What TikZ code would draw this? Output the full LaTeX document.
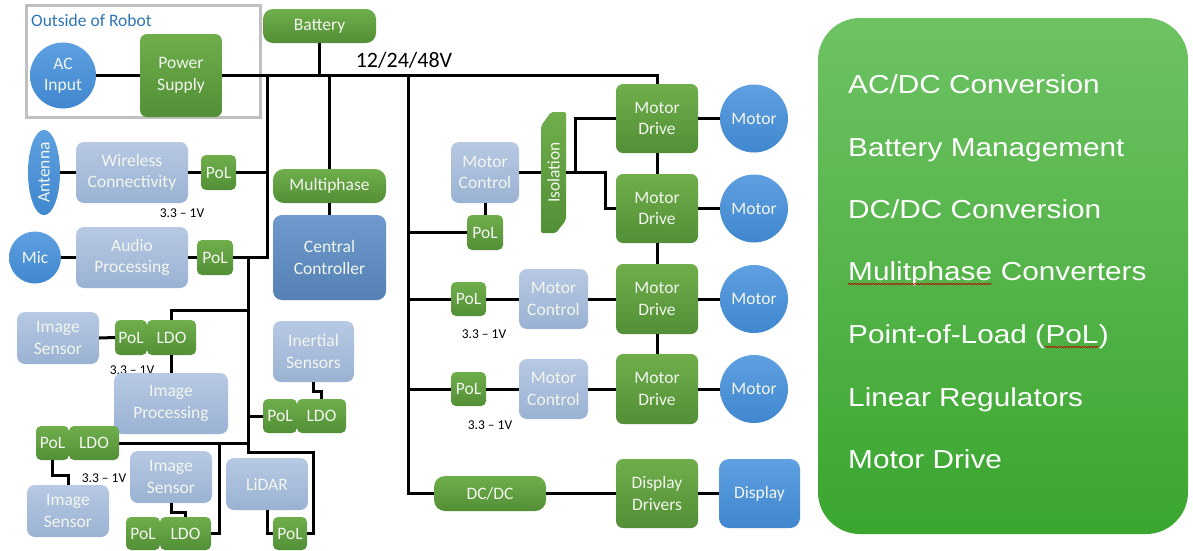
\documentclass[tikz,border=0pt]{standalone}
\usepackage{fontspec}
\setmainfont{Carlito}
\newfontfamily\panelfont[FakeStretch=1.145]{Liberation Sans}
\usetikzlibrary{shapes.geometric,decorations.pathmorphing}
\definecolor{gTop}{HTML}{6FAE4B}
\definecolor{gBot}{HTML}{528F36}
\definecolor{lbTop}{HTML}{B7C9E3}
\definecolor{lbBot}{HTML}{9AB2D3}
\definecolor{cTop}{HTML}{5EA0E0}
\definecolor{cBot}{HTML}{4087CF}
\definecolor{ccTop}{HTML}{6E9ACD}
\definecolor{ccBot}{HTML}{5580B3}
\definecolor{pTop}{HTML}{6EC263}
\definecolor{pBot}{HTML}{3AA62F}
\definecolor{outGray}{HTML}{C0C0C0}
\definecolor{outBlue}{HTML}{2E75B6}
\definecolor{txtW}{HTML}{F2F6EE}
\newcommand\bxn[7]{\node[#2, minimum width=#5-#3, minimum height=#6-#4] (#1) at ({(#3+#5)/2},{(#4+#6)/2}) {#7};}
\begin{document}
\begin{tikzpicture}[x=1pt,y=-1pt,
 lbl/.style={font=\fontsize{17.5}{21.5}\selectfont, text=txtW, align=center, inner sep=0pt},
 gbox/.style={lbl, rounded corners=7pt, top color=gTop, bottom color=gBot},
 lbbox/.style={lbl, rounded corners=8pt, top color=lbTop, bottom color=lbBot},
 ccbox/.style={lbl, rounded corners=9pt, top color=ccTop, bottom color=ccBot},
 dispbox/.style={lbl, rounded corners=10pt, top color=cTop, bottom color=cBot},
 bcirc/.style={lbl, circle, top color=cTop, bottom color=cBot},
 conn/.style={line width=3pt, black},
 volt/.style={font=\fontsize{13.5}{15}\selectfont, inner sep=0pt},
 item/.style={font=\panelfont\fontsize{26}{30}\selectfont, text=white, anchor=base west, inner sep=0pt},
 squig/.style={draw=red!75!black, line width=0.7pt, decorate, decoration={snake, amplitude=0.7pt, segment length=3pt}}
]
\useasboundingbox (0,0) rectangle (1193,550);
\fill[white] (0,0) rectangle (1193,550);

% outside of robot
\node[draw=outGray, line width=3pt, minimum width=234, minimum height=112, inner sep=0pt] (outside) at (143,61) {};
\node[anchor=west, text=outBlue, font=\fontsize{17.5}{20}\selectfont, inner sep=0pt] (outlbl) at (31,20) {Outside of Robot};
\node[bcirc, minimum size=66] (ac) at (63,75.5) {AC\\Input};
\bxn{ps}{gbox}{140}{34}{222}{117}{Power\\Supply}
\bxn{bat}{gbox, rounded corners=10pt}{263}{9}{376}{43}{Battery}
\node[font=\fontsize{22}{24}\selectfont, inner sep=0pt] (busv) at (404,60) {12/24/48V};

% left column
\node[ellipse, lbl, top color=cTop, bottom color=cBot, minimum width=32, minimum height=82] (ant) at (44,172.5) {\rotatebox{90}{Antenna}};
\bxn{wl}{lbbox}{76}{142}{188}{203}{Wireless\\Connectivity}
\bxn{polw}{gbox, rounded corners=5pt}{201}{155}{236}{190}{PoL}
\node[volt] (v1) at (182,213) {3.3 -- 1V};
\node[bcirc, minimum size=52] (mic) at (35,257.5) {Mic};
\bxn{ap}{lbbox}{76}{227}{188}{288}{Audio\\Processing}
\bxn{pola}{gbox, rounded corners=5pt}{197}{240}{233}{275}{PoL}
\bxn{mp}{gbox, rounded corners=11pt}{273}{169}{386}{203}{Multiphase}
\bxn{cc}{ccbox}{273}{215}{386}{300}{Central\\Controller}

\bxn{is1}{lbbox}{17}{312}{99}{364}{Image\\Sensor}
\bxn{pol1}{gbox, rounded corners=5pt}{115}{320}{147}{355}{PoL}
\bxn{ldo1}{gbox, rounded corners=5pt}{147}{320}{196}{355}{LDO}
\node[volt] (v2) at (132,370) {3.3 -- 1V};
\bxn{ip}{lbbox}{114}{373}{228}{434}{Image\\Processing}
\bxn{ine}{lbbox}{273}{321}{354}{382}{Inertial\\Sensors}
\bxn{polI}{gbox, rounded corners=5pt}{263}{399}{297}{433}{PoL}
\bxn{ldoI}{gbox, rounded corners=5pt}{297}{399}{346}{433}{LDO}
\bxn{pol3}{gbox, rounded corners=5pt}{36}{426}{69}{460}{PoL}
\bxn{ldo3}{gbox, rounded corners=5pt}{69}{426}{119}{460}{LDO}
\node[volt] (v3) at (104,478) {3.3 -- 1V};
\bxn{is3}{lbbox}{27}{485}{109}{537}{Image\\Sensor}
\bxn{is2}{lbbox}{130}{451}{212}{503}{Image\\Sensor}
\bxn{pol4}{gbox, rounded corners=5pt}{126}{517}{160}{550}{PoL}
\bxn{ldo4}{gbox, rounded corners=5pt}{160}{517}{211}{550}{LDO}
\bxn{lid}{lbbox}{226}{458}{308}{510}{LiDAR}
\bxn{polL}{gbox, rounded corners=5pt}{273}{517}{307}{550}{PoL}

% middle
\bxn{mc1}{lbbox}{451}{142}{519}{203}{Motor\\Control}
\bxn{polM}{gbox, rounded corners=5pt}{467}{215}{503}{250}{PoL}
\shade[top color=gTop, bottom color=gBot, rounded corners=2pt] (541,126) -- (551,112) -- (566,112) -- (566,220) -- (556,233) -- (541,233) -- cycle;
\node[inner sep=0pt, minimum width=25, minimum height=121] (iso) at (553.5,172.5) {};
\node[lbl, rotate=90] (isotxt) at (iso.center) {Isolation};
\bxn{md1}{gbox}{616}{84}{698}{153}{Motor\\Drive}
\bxn{md2}{gbox}{616}{174}{698}{243}{Motor\\Drive}
\bxn{md3}{gbox}{616}{264}{698}{334}{Motor\\Drive}
\bxn{md4}{gbox}{616}{354}{698}{424}{Motor\\Drive}
\node[bcirc, minimum size=68] (m1) at (754,118.5) {Motor};
\node[bcirc, minimum size=68] (m2) at (754,208.5) {Motor};
\node[bcirc, minimum size=68] (m3) at (754,299) {Motor};
\node[bcirc, minimum size=68] (m4) at (754,389) {Motor};
\bxn{polR3}{gbox, rounded corners=5pt}{451}{282}{486}{316}{PoL}
\bxn{mc3}{lbbox}{519}{269}{588}{329}{Motor\\Control}
\node[volt] (v4) at (484,334) {3.3 -- 1V};
\bxn{polR4}{gbox, rounded corners=5pt}{451}{372}{486}{406}{PoL}
\bxn{mc4}{lbbox}{519}{359}{588}{419}{Motor\\Control}
\node[volt] (v5) at (490,425) {3.3 -- 1V};
\bxn{dcdc}{gbox, rounded corners=11pt}{434}{476}{546}{511}{DC/DC}
\bxn{dd}{gbox}{616}{459}{698}{528}{Display\\Drivers}
\bxn{disp}{dispbox}{719}{459}{800}{528}{Display}

% junctions
\coordinate (j1) at (267,75.5);
\coordinate (j2) at (248,257.5);
\coordinate (j3) at (248,452);
\coordinate (j4) at (248,310);
\coordinate (j5) at (219,443);
\coordinate (lr) at (313,533.5);
\coordinate (j7) at (408,75.5);
\coordinate (j8) at (575,172.5);
\coordinate (j9) at (605,172.5);

% connectors
\draw[conn] (ac.east) -- (ps.west);
\draw[conn] (ps.east) -- (ps.east -| md1.north) -- (md1.north);
\draw[conn] (bat.south) -- (bat.south |- ps.east);
\draw[conn] (j1) |- (pola.east);
\draw[conn] (polw.east) -- (polw.east -| j1);
\draw[conn] (mp.north) -- (mp.north |- ps.east);
\draw[conn] (mp.south) -- (cc.north);
\draw[conn] (ant.east) -- (wl.west);
\draw[conn] (wl.east) -- (polw.west);
\draw[conn] (mic.east) -- (ap.west);
\draw[conn] (ap.east) -- (pola.west);
\draw[conn] (j2) -- (j3) -| (lr) -- (polL.east);
\draw[conn] (j4) -| (ldo1.north);
\draw[conn] (polI.west) -- (polI.west -| j2);
\draw[conn] (ldo3.east) -- (ldo3.east -| j2);
\draw[conn] (j5) |- (ldo4.east);
\draw[conn] (is1.east) -- (pol1.west);
\draw[conn] (ldo1.south) -- (ldo1.south |- ip.north);
\draw[conn] (ine.south) -- ++(0,9) -| (ldoI.north);
\draw[conn] (pol3.south) -- ++(0,15) -| (is3.north);
\draw[conn] (is2.south) -- ++(0,9) -| (ldo4.north);
\draw[conn] (lid.south) |- (polL.west);

\draw[conn] (j7) |- (dcdc.west);
\draw[conn] (polM.west) -- (polM.west -| j7);
\draw[conn] (mc1.south) -- (polM.north);
\draw[conn] (mc1.east) -- (iso.west);
\draw[conn] (iso.east) -- (j9) |- (md2.west);
\draw[conn] (j8) |- (md1.west);
\draw[conn] (md1.south) -- (md2.north);
\draw[conn] (md2.south) -- (md3.north);
\draw[conn] (md3.south) -- (md4.north);
\draw[conn] (md1.east) -- (m1.west);
\draw[conn] (md2.east) -- (m2.west);
\draw[conn] (md3.east) -- (m3.west);
\draw[conn] (md4.east) -- (m4.west);
\draw[conn] (polR3.west -| j7) -- (polR3.west);
\draw[conn] (polR3.east) -- (mc3.west);
\draw[conn] (mc3.east) -- (md3.west);
\draw[conn] (polR4.west -| j7) -- (polR4.west);
\draw[conn] (polR4.east) -- (mc4.west);
\draw[conn] (mc4.east) -- (md4.west);
\draw[conn] (dcdc.east) -- (dd.west);
\draw[conn] (dd.east) -- (disp.west);

% right panel
\node[rounded corners=42pt, top color=pTop, bottom color=pBot, minimum width=370, minimum height=516, inner sep=0pt] (panel) at (1003,276) {};
\node[item] (i1) at (848,93) {AC/DC Conversion};
\node[item] (i2) at (848,156) {Battery Management};
\node[item] (i3) at (848,218) {DC/DC Conversion};
\node[item] (i4a) at (848,280) {Mulitphase};
\node[item] (i4b) at (i4a.base east) {\ Converters};
\node[item] (i5a) at (848,343) {Point-of-Load (};
\node[item] (i5b) at (i5a.base east) {PoL};
\node[item] (i5c) at (i5b.base east) {)};
\node[item] (i6) at (848,406) {Linear Regulators};
\node[item] (i7) at (848,468) {Motor Drive};
\draw[squig] ([yshift=-4pt]i4a.base west) -- ([yshift=-4pt]i4a.base east);
\draw[squig] ([yshift=-4pt]i5b.base west) -- ([yshift=-4pt]i5b.base east);
\end{tikzpicture}
\end{document}
